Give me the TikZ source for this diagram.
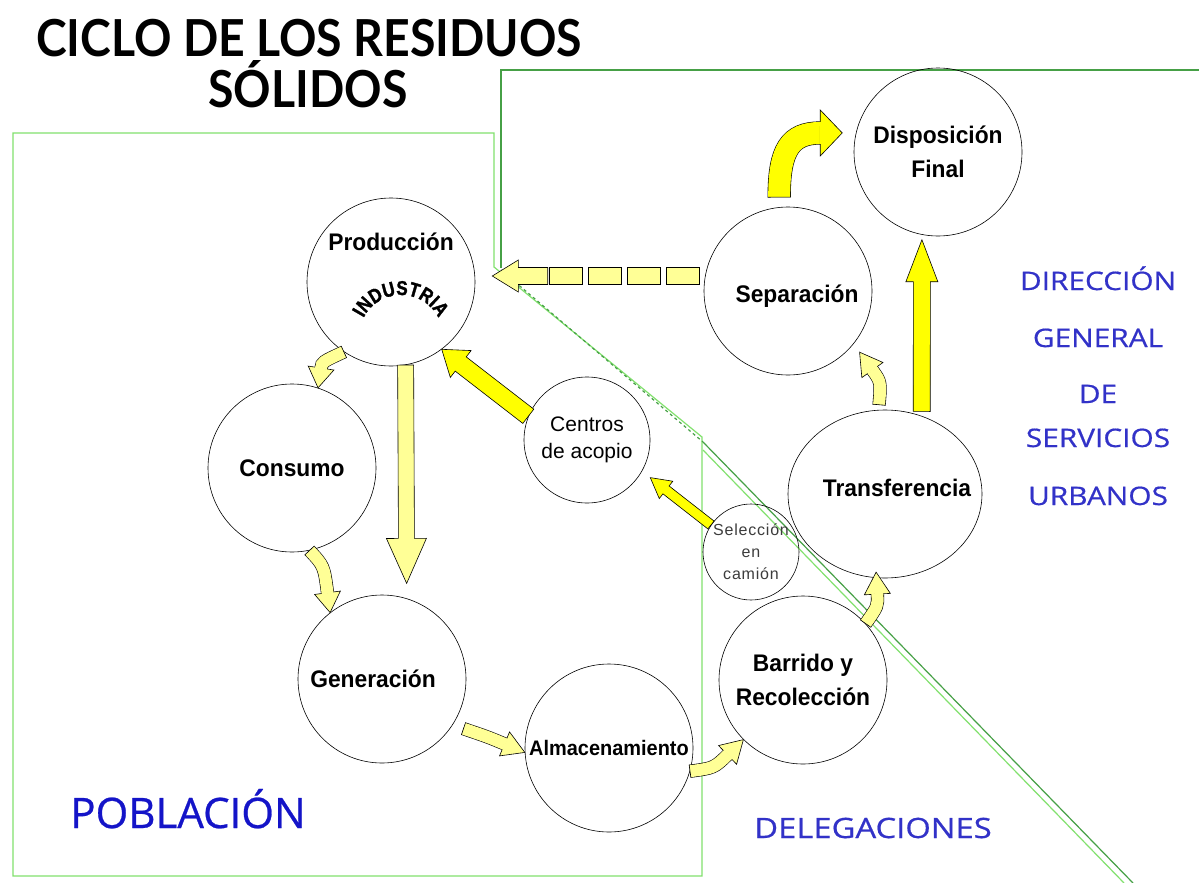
\documentclass[tikz,border=0pt]{standalone}
\usepackage{fontspec}
\usetikzlibrary{shapes.geometric, arrows.meta, positioning, calc, decorations.text}
\newfontfamily\titlefont[FakeStretch=0.91]{Lato}
\newfontfamily\lblfont[FakeStretch=0.95]{Liberation Sans}
\newfontfamily\arcfont[FakeStretch=0.85, FakeBold=1.5]{Liberation Sans}
\newfontfamily\plainfont{Liberation Sans}
\newfontfamily\spacedfont[LetterSpace=5]{Liberation Sans}
\newfontfamily\zonefont[FakeBold=0.6]{Open Sans}
\newfontfamily\zonewidefont[FakeStretch=1.17, FakeBold=0.6]{Open Sans}
\definecolor{paleyellow}{RGB}{255,255,150}
\definecolor{brightyellow}{RGB}{255,255,0}
\definecolor{lightgreen}{RGB}{130,225,110}
\definecolor{darkgreen}{RGB}{70,160,70}
\definecolor{zoneblue}{RGB}{50,50,200}
\definecolor{popblue}{RGB}{20,20,200}
\definecolor{selgray}{RGB}{60,60,60}
\tikzstyle{titletext} = [font=\titlefont\bfseries\fontsize{51}{44}\selectfont, inner sep=0pt]
\tikzstyle{stage} = [circle, draw, line width=0.6pt, minimum size=168pt, inner sep=0pt, align=center, font=\lblfont\bfseries\fontsize{24}{34}\selectfont]
\tikzstyle{stagetext} = [font=\lblfont\bfseries\fontsize{24}{34}\selectfont, inner sep=0pt]
\tikzstyle{substage} = [circle, draw, line width=0.6pt, inner sep=0pt, align=center, font=\plainfont\fontsize{21}{27}\selectfont]
\tikzstyle{zone} = [text=zoneblue, font=\zonewidefont\fontsize{25.5}{30}\selectfont, inner sep=0pt, anchor=base]
\tikzstyle{lightborder} = [draw=lightgreen, line width=1.2pt]
\tikzstyle{darkborder} = [draw=darkgreen, line width=1.2pt]
% straight block arrow: start, tip, fill, shaft half, head half, head length
\newcommand{\fatarrow}[6]{%
  \coordinate (hb) at ($(#2)!#6!(#1)$);
  \filldraw[fill=#3, line width=0.6pt] ($(#1)!#4!90:(#2)$) -- ($(hb)!#4!90:(#2)$) -- ($(hb)!#5!90:(#2)$) -- (#2)
    -- ($(hb)!#5!-90:(#2)$) -- ($(hb)!#4!-90:(#2)$) -- ($(#1)!#4!-90:(#2)$) -- cycle;
}
% curved block arrow: start, c1, c2, tip, fill, shaft width, head half, head length
\newcommand{\bentarrow}[8]{%
  \coordinate (hb) at ($(#4)!#8!(#3)$);
  \draw[line width=0.6pt, double=#5, double distance=#6] (#1) .. controls (#2) and (#3) .. (hb);
  \draw[line width=0.6pt] ($(#1)!0.5*#6+0.6pt!90:(#2)$) -- ($(#1)!0.5*#6+0.6pt!-90:(#2)$);
  \filldraw[fill=#5, line width=0.6pt] ($(hb)!#7!90:(#4)$) -- (#4) -- ($(hb)!#7!-90:(#4)$) -- cycle;
  \draw[#5, line width=#6-0.2pt] ($(hb)!-1pt!(#4)$) -- ($(hb)!1pt!(#4)$);
}

\begin{document}
\begin{tikzpicture}[x=1pt, y=-1pt]
    \fill[white] (0,0) rectangle (1199,883);
    \useasboundingbox (0,0) rectangle (1199,883);

    % Title
    \node (titleA) [titletext, anchor=base] at (309,57) {CICLO DE LOS RESIDUOS};
    \begin{scope}
        \clip (150,61) rectangle (470,125);
        \node (titleB) [titletext, anchor=base] at (308,107) {SÓLIDOS};
    \end{scope}

    % Zones
    \draw[lightborder] (494,267) -- (494,133) -- (13,133) -- (13,876) -- (702,876) -- (702,437) -- cycle;
    \draw[darkborder] (1199,70) -- (501,70) -- (501,268);
    \draw[darkborder, dashed] (501,270) -- (703,442);
    \draw[darkborder] (703,442) -- (1133,883);
    \draw[lightborder] (703,450) -- (1124,883);

    \node (pob) [zone, text=popblue, font=\zonefont\fontsize{42}{46}\selectfont] at (188,828) {POBLACIÓN};
    \node (deleg) [zone, font=\zonewidefont\fontsize{28}{30}\selectfont] at (873,838) {DELEGACIONES};
    \node (dgsuA) [zone] at (1098,290) {DIRECCIÓN};
    \node (dgsuB) [zone] at (1098,347) {GENERAL};
    \node (dgsuC) [zone] at (1098,403) {DE};
    \node (dgsuD) [zone] at (1098,447) {SERVICIOS};
    \node (dgsuE) [zone] at (1098,505) {URBANOS};

    % Stages
    \node (prod) [stage] at (391,282) {};
    \node (prodtext) [stagetext] at ([yshift=40pt]prod.center) {Producción};
    \path[decorate, decoration={text along path, text align=center,
        text={|\arcfont\bfseries\fontsize{20}{20}\selectfont|INDUSTRIA}}]
        ([shift={(-31.4,47.7)}]prod.center) arc[start angle=190, end angle=350, radius=42];
    \node (cons) [stage] at (292,468) {Consumo};
    \node (gen) [stage] at (382,679) {};
    \node (gentext) [stagetext] at ([xshift=-9pt]gen.center) {Generación};
    \node (alm) [stage, font=\lblfont\bfseries\fontsize{21}{27}\selectfont] at (609,748) {Almacenamiento};
    \node (barr) [stage] at (803,680) {Barrido y\\Recolección};
    \node (transf) [stage, ellipse, minimum width=194pt, minimum height=168pt] at (885,494) {};
    \node (transftext) [stagetext] at ([xshift=12pt,yshift=6pt]transf.center) {Transferencia};
    \node (sep) [stage] at (788,291) {};
    \node (septext) [stagetext] at ([xshift=9pt,yshift=-5pt]sep.center) {Separación};
    \node (disp) [stage] at (938,152) {Disposición\\Final};
    \node (acopio) [substage, minimum size=126pt] at (587,440) {Centros\\de acopio};
    \node (selec) [substage, minimum size=96pt, text=selgray, font=\spacedfont\fontsize{16}{22}\selectfont] at (751,552) {Selección\\en\\camión};

    % Arrows
    \bentarrow{prod.-124}{322,362}{322,362}{cons.72}{paleyellow}{12pt}{13pt}{20pt}
    \bentarrow{cons.-78}{324,566}{324,566}{gen.128}{paleyellow}{12pt}{13pt}{20pt}
    \coordinate (pgT) at ([yshift=15pt]gen.73);
    \fatarrow{prod.-80}{pgT}{paleyellow}{8pt}{20pt}{45pt}
    \coordinate (gaA) at ([xshift=10pt,yshift=-5pt]gen.-32);
    \bentarrow{gaA}{488,737}{488,737}{alm.183}{paleyellow}{12pt}{13pt}{22pt}
    \bentarrow{alm.-16}{714,768}{714,768}{barr.-135}{paleyellow}{12pt}{13pt}{22pt}
    \coordinate (btT) at ([xshift=-3pt,yshift=6pt]transf.-94);
    \bentarrow{barr.42}{878,606}{878,606}{btT}{paleyellow}{12pt}{13pt}{22pt}
    \coordinate (tsA) at ([xshift=-3pt,yshift=5pt]transf.92);
    \coordinate (tsT) at ([xshift=7pt,yshift=-7pt]sep.-40);
    \bentarrow{tsA}{881,382}{881,382}{tsT}{paleyellow}{12pt}{13pt}{22pt}
    \coordinate (sdA) at ([yshift=10pt]sep.96);
    \coordinate (sdT) at ([xshift=-13pt,yshift=3pt]disp.169);
    \bentarrow{sdA}{779,150}{790,133}{sdT}{brightyellow}{22pt}{23pt}{22pt}
    \coordinate (tdA) at ([xshift=-4pt,yshift=6pt]transf.62);
    \coordinate (tdT) at ([yshift=-5pt]disp.-101);
    \fatarrow{tdA}{tdT}{brightyellow}{8.5pt}{16pt}{42pt}
    \fatarrow{acopio.158}{prod.-53}{brightyellow}{9pt}{17pt}{24pt}
    \coordinate (scT) at ([xshift=9pt,yshift=-5pt]acopio.-31);
    \fatarrow{selec.146}{scT}{brightyellow}{5pt}{11pt}{20pt}

    % Separated material back to production
    \coordinate (spR) at ([xshift=-4pt,yshift=15pt]sep.west);
    \coordinate (spT) at ([xshift=17pt,yshift=6pt]prod.east);
    \foreach \i in {0,...,3}
        \filldraw[fill=paleyellow, line width=0.6pt] ([xshift=-\i*39pt, yshift=8.5pt]spR) rectangle ([xshift=-\i*39pt-33pt, yshift=-8.5pt]spR);
    \coordinate (spH) at ([xshift=-152pt]spR);
    \fatarrow{spH}{spT}{paleyellow}{8.5pt}{16pt}{26pt}

\end{tikzpicture}
\end{document}
